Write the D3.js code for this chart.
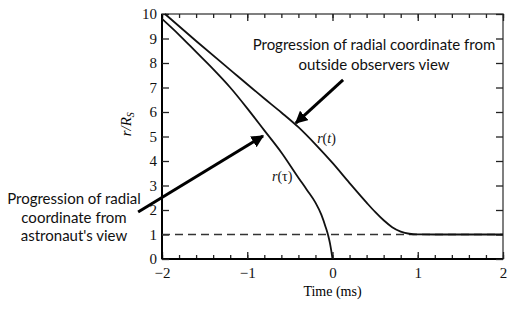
<!DOCTYPE html>
<html>
<head>
<meta charset="utf-8">
<script src="https://cdn.jsdelivr.net/npm/d3@7"></script>
<style>
  body { margin: 0; background: #fff; }
  svg { display: block; }
  .tick text { font-family: "Liberation Serif", "Times New Roman", serif; font-size: 15px; fill: #111; }
  .note { font-family: Lato, "Open Sans", sans-serif; font-size: 15px; fill: #111; }
  .curve-label { font-family: "Liberation Serif", serif; font-size: 14px; fill: #111; }
</style>
</head>
<body>
<svg id="chart" width="518" height="310"></svg>
<script>
  // values: time in ms, radius in units of R_S
  const tauTime = [-2, -1.8, -1.6, -1.4, -1.2, -1.0, -0.8, -0.6, -0.4, -0.3, -0.2, -0.13, -0.08, -0.05, -0.03, -0.015, 0];
  const tauRadius = [9.8, 9.15, 8.45, 7.75, 7.0, 6.15, 5.25, 4.35, 3.32, 2.82, 2.3, 1.8, 1.3, 0.95, 0.65, 0.35, 0];

  const coordTime = [-1.965, -1.6, -1.2, -0.8, -0.6, -0.4, -0.2, 0, 0.2, 0.4, 0.5, 0.6, 0.7, 0.8, 0.9, 1.0, 1.2, 2.0];
  const coordRadius = [10, 8.9, 7.72, 6.55, 5.98, 5.38, 4.68, 3.92, 3.1, 2.3, 1.92, 1.58, 1.3, 1.12, 1.03, 1.005, 1.0, 1.0];

  const horizon = 1;
  const xTicks = [-2, -1, 0, 1, 2];
  const yTicks = [0, 1, 2, 3, 4, 5, 6, 7, 8, 9, 10];

  const svg = d3.select('#chart');
  const plotL = 162, plotR = 503, plotT = 14, plotB = 259;

  const x = d3.scaleLinear().domain([-2, 2]).range([plotL, plotR]);
  const y = d3.scaleLinear().domain([0, 10]).range([plotB, plotT]);

  // frame
  svg.append('rect')
    .attr('x', plotL).attr('y', plotT)
    .attr('width', plotR - plotL).attr('height', plotB - plotT)
    .attr('fill', 'none').attr('stroke', '#555').attr('stroke-width', 1.5);

  const minorX = d3.range(-2, 2.001, 0.2);

  // bottom axis: minor then major
  svg.append('g').attr('transform', `translate(0,${plotB})`)
    .call(d3.axisBottom(x).tickValues(minorX).tickSize(-4).tickFormat(''))
    .call(g => g.select('.domain').remove());
  svg.append('g').attr('transform', `translate(0,${plotB})`)
    .call(d3.axisBottom(x).tickValues(xTicks).tickSize(-7).tickPadding(8).tickFormat(d3.format('d')))
    .call(g => g.select('.domain').attr('stroke-width', 2).attr('d', `M${plotL},0H${plotR}`));

  // top axis
  svg.append('g').attr('transform', `translate(0,${plotT})`)
    .call(d3.axisTop(x).tickValues(minorX).tickSize(-4).tickFormat(''))
    .call(g => g.select('.domain').remove());
  svg.append('g').attr('transform', `translate(0,${plotT})`)
    .call(d3.axisTop(x).tickValues(xTicks).tickSize(-7).tickFormat(''))
    .call(g => g.select('.domain').remove());

  // left axis
  svg.append('g').attr('transform', `translate(${plotL},0)`)
    .call(d3.axisLeft(y).tickValues(yTicks).tickSize(-7).tickPadding(5))
    .call(g => g.select('.domain').attr('stroke-width', 2).attr('d', `M0,${plotB}V${plotT}`));

  // right axis
  svg.append('g').attr('transform', `translate(${plotR},0)`)
    .call(d3.axisRight(y).tickValues(yTicks).tickSize(-7).tickFormat(''))
    .call(g => g.select('.domain').remove());

  svg.selectAll('.tick line').attr('stroke', '#222').attr('stroke-width', 1.3);

  // horizon dashed line
  svg.append('line')
    .attr('x1', x(-2)).attr('x2', x(2))
    .attr('y1', y(horizon)).attr('y2', y(horizon))
    .attr('stroke', '#333').attr('stroke-width', 1.3)
    .attr('stroke-dasharray', '8,5');

  const line = d3.line().curve(d3.curveMonotoneX).x(d => x(d[0])).y(d => y(d[1]));

  svg.append('path')
    .datum(d3.zip(tauTime, tauRadius))
    .attr('d', line)
    .attr('fill', 'none').attr('stroke', '#111').attr('stroke-width', 1.8);

  svg.append('path')
    .datum(d3.zip(coordTime, coordRadius))
    .attr('d', line)
    .attr('fill', 'none').attr('stroke', '#111').attr('stroke-width', 1.8);

  // curve labels
  const lab1 = svg.append('text').attr('class', 'curve-label')
    .attr('x', x(-0.18)).attr('y', y(4.75));
  lab1.append('tspan').attr('font-style', 'italic').text('r');
  lab1.append('tspan').text('(');
  lab1.append('tspan').attr('font-style', 'italic').text('t');
  lab1.append('tspan').text(')');

  const lab2 = svg.append('text').attr('class', 'curve-label')
    .attr('x', x(-0.71)).attr('y', y(3.18));
  lab2.append('tspan').attr('font-style', 'italic').text('r');
  lab2.append('tspan').text('(τ)');

  // axis titles
  svg.append('text')
    .attr('x', x(0)).attr('y', 296)
    .attr('text-anchor', 'middle')
    .attr('font-family', '"Liberation Serif", serif').attr('font-size', 14)
    .text('Time (ms)');

  const yt = svg.append('text')
    .attr('transform', `translate(131,${y(5.5)}) rotate(-90)`)
    .attr('text-anchor', 'middle')
    .attr('font-family', '"Liberation Serif", serif').attr('font-size', 15)
    .attr('font-style', 'italic');
  yt.append('tspan').text('r/R');
  yt.append('tspan').attr('font-size', 10).attr('dy', 3).text('S');

  // annotation arrows
  const defs = svg.append('defs');
  defs.append('marker')
    .attr('id', 'head')
    .attr('viewBox', '0 0 10 10')
    .attr('refX', 9).attr('refY', 5)
    .attr('markerWidth', 4.2).attr('markerHeight', 4.2)
    .attr('markerUnits', 'strokeWidth')
    .attr('orient', 'auto')
    .append('path').attr('d', 'M0,0L10,5L0,10Z').attr('fill', '#000');

  const arrows = [
    {from: [0.124, 7.31], to: [-0.43, 5.55]},
    {from: [-2.28, 1.92], to: [-0.815, 5.02]}
  ];
  svg.selectAll('.arrow').data(arrows).join('line')
    .attr('class', 'arrow')
    .attr('x1', d => x(d.from[0])).attr('y1', d => y(d.from[1]))
    .attr('x2', d => x(d.to[0])).attr('y2', d => y(d.to[1]))
    .attr('stroke', '#000').attr('stroke-width', 3)
    .attr('marker-end', 'url(#head)');

  // annotation text
  const noteTop = ['Progression of radial coordinate from', 'outside observers view'];
  const noteLeft = ['Progression of radial', 'coordinate from', "astronaut's view"];

  svg.append('text').attr('class', 'note').attr('text-anchor', 'middle')
    .selectAll('tspan').data(noteTop).join('tspan')
    .attr('x', 374).attr('y', (d, i) => 50 + i * 19.5)
    .text(d => d);

  svg.append('text').attr('class', 'note').attr('text-anchor', 'middle')
    .selectAll('tspan').data(noteLeft).join('tspan')
    .attr('x', 74).attr('y', (d, i) => 204 + i * 18.5)
    .text(d => d);
</script>
</body>
</html>
